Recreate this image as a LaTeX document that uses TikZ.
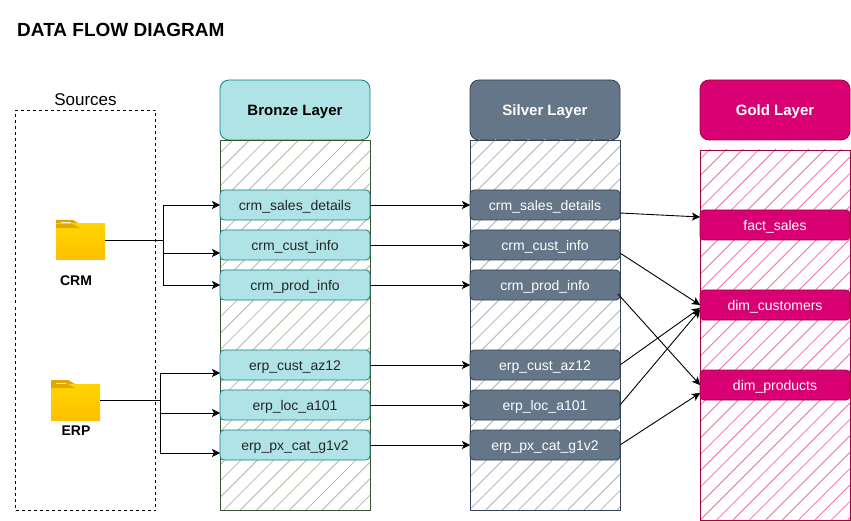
\documentclass[tikz,border=0pt]{standalone}
\usepackage{fontspec}
\setmainfont{Liberation Sans}
\usetikzlibrary{arrows.meta,positioning}
\definecolor{bronzefill}{HTML}{B0E3E6}
\definecolor{bronzeline}{HTML}{0E8088}
\definecolor{bronzepanel}{HTML}{3A5431}
\definecolor{bronzehatch}{HTML}{AEBBA8}
\definecolor{silverfill}{HTML}{647687}
\definecolor{silverline}{HTML}{314354}
\definecolor{silverhatch}{HTML}{A9B4C0}
\definecolor{goldfill}{HTML}{D80073}
\definecolor{goldline}{HTML}{A50040}
\definecolor{goldhatch}{HTML}{EC6DB0}
\definecolor{folderdark}{HTML}{E0A800}
\definecolor{foldertop}{HTML}{FFD500}
\definecolor{folderbottom}{HTML}{FFC000}
\tikzset
{
    header/.style = {rectangle, rounded corners=9pt, outer sep=0pt, inner sep=0pt, line width=0.8pt, minimum width=150pt, minimum height=60pt, text height=11.5pt, text depth=0pt, font=\fontsize{15}{17}\selectfont\bfseries},
    tablerow/.style = {rectangle, rounded corners=4pt, outer sep=0pt, inner sep=0pt, line width=0.8pt, minimum width=150pt, minimum height=30pt, text height=11pt, text depth=0pt, font=\fontsize{14}{16}\selectfont},
    bronzehead/.style = {header, draw=bronzeline, fill=bronzefill, text=black},
    silverhead/.style = {header, draw=silverline, fill=silverfill, text=white},
    goldhead/.style = {header, draw=goldline, fill=goldfill, text=white},
    bronzerow/.style = {tablerow, draw=bronzeline, fill=bronzefill, text=black!85},
    silverrow/.style = {tablerow, draw=silverline, fill=silverfill, text=white},
    goldrow/.style = {tablerow, draw=goldline, fill=goldfill, text=white},
    hatchpanel/.style n args = {3}{rectangle, outer sep=0pt, inner sep=0pt, line width=0.8pt, minimum width=150pt, minimum height=370pt, draw=#1,
        path picture={
            \foreach \d in {#3,...,160}
                \draw[#2, line width=0.8pt] ([xshift=\d pt]path picture bounding box.south west) -- ++(400,-400);
        }},
    foldericon/.style = {rectangle, outer sep=0pt, inner sep=0pt, minimum width=49pt, minimum height=40pt,
        path picture={
            \fill[folderdark] (path picture bounding box.north west) -- ++(17,0) -- ++(8,4.5) -- ++(-25,4) -- cycle;
            \fill[white!85!folderdark] ([shift={(4.5pt,-2.5pt)}]path picture bounding box.north west) rectangle ++(10,2);
            \shade[top color=foldertop, bottom color=folderbottom] ([yshift=-4pt]path picture bounding box.north west) -- ++(49,0) -- (path picture bounding box.south east) -- (path picture bounding box.south west) -- cycle;
            \fill[folderdark] ([yshift=-8pt]path picture bounding box.north west) -- ++(24,0) -- ++(-7,-4) -- ++(-17,0) -- cycle;
        }},
    srclabel/.style = {font=\fontsize{14}{16}\selectfont\bfseries},
    flow/.style = {-{Stealth[length=8pt,width=8pt,inset=2pt]}, line width=0.9pt, black}
}

\begin{document}
\begin{tikzpicture}[x=1pt,y=-1pt]
	\useasboundingbox (0,0) rectangle (851,521);
	\node[anchor=west,font=\fontsize{19}{21}\selectfont\bfseries] (title) at (13.7,30) {DATA FLOW DIAGRAM};

	% sources
	\node[rectangle,draw=black,dashed,line width=0.8pt,outer sep=0pt,minimum width=140pt,minimum height=400pt] (sources) at (85.5,310.5) {};
	\node[above=1pt of sources,font=\fontsize{17}{19}\selectfont] (sourcestitle) {Sources};
	\node[foldericon] (crmfolder) at (80.5,240) {};
	\node[foldericon] (erpfolder) at (75.5,400) {};
	\node[srclabel] (crmlabel) at (76,281) {CRM};
	\node[srclabel] (erplabel) at (76,431) {ERP};

	% layers
	\node[bronzehead] (bronze) at (295,110) {Bronze Layer};
	\node[silverhead,right=100pt of bronze] (silver) {Silver Layer};
	\node[goldhead,right=80pt of silver] (gold) {Gold Layer};
	\node[hatchpanel={bronzepanel}{bronzehatch}{-389.7,-373.3},below=0pt of bronze] (bronzepanel) {};
	\node[hatchpanel={silverline}{silverhatch}{-394.2,-377.8},below=0pt of silver] (silverpanel) {};
	\node[hatchpanel={goldline}{goldhatch}{-393.4,-377},below=10pt of gold] (goldpanel) {};

	% bronze tables
	\node[bronzerow,below=50pt of bronze] (bsales) {crm\_sales\_details};
	\node[bronzerow,below=10pt of bsales] (bcust) {crm\_cust\_info};
	\node[bronzerow,below=10pt of bcust] (bprod) {crm\_prod\_info};
	\node[bronzerow,below=50pt of bprod] (baz) {erp\_cust\_az12};
	\node[bronzerow,below=10pt of baz] (bloc) {erp\_loc\_a101};
	\node[bronzerow,below=10pt of bloc] (bpx) {erp\_px\_cat\_g1v2};

	% silver tables
	\node[silverrow,right=100pt of bsales] (ssales) {crm\_sales\_details};
	\node[silverrow,right=100pt of bcust] (scust) {crm\_cust\_info};
	\node[silverrow,right=100pt of bprod] (sprod) {crm\_prod\_info};
	\node[silverrow,right=100pt of baz] (saz) {erp\_cust\_az12};
	\node[silverrow,right=100pt of bloc] (sloc) {erp\_loc\_a101};
	\node[silverrow,right=100pt of bpx] (spx) {erp\_px\_cat\_g1v2};

	% gold tables
	\node[goldrow,below=70pt of gold] (factsales) {fact\_sales};
	\node[goldrow,below=50pt of factsales] (dimcust) {dim\_customers};
	\node[goldrow,below=50pt of dimcust] (dimprod) {dim\_products};

	% sources to bronze
	\draw[flow] (crmfolder.east) -- ++(58,0) |- (bsales.west);
	\draw[flow] (crmfolder.east) -- ++(58,0) |- ([yshift=-8pt]bcust.west);
	\draw[flow] (crmfolder.east) -- ++(58,0) |- (bprod.west);
	\draw[flow] (erpfolder.east) -- ++(60,0) |- ([yshift=-8pt]baz.west);
	\draw[flow] (erpfolder.east) -- ++(60,0) |- ([yshift=-8pt]bloc.west);
	\draw[flow] (erpfolder.east) -- ++(60,0) |- ([yshift=-8pt]bpx.west);

	% bronze to silver
	\draw[flow] (bsales) -- (ssales);
	\draw[flow] (bcust) -- (scust);
	\draw[flow] (bprod) -- (sprod);
	\draw[flow] (baz) -- (saz);
	\draw[flow] (bloc) -- (sloc);
	\draw[flow] (bpx) -- (spx);

	% silver to gold
	\draw[flow] ([yshift=-8pt]ssales.east) -- ([yshift=8pt]factsales.west);
	\draw[flow] ([yshift=-8pt]scust.east) -- (dimcust.west);
	\draw[flow] ([shift={(-2pt,-9pt)}]sprod.east) -- (dimprod.west);
	\draw[flow] (saz.east) -- ([yshift=-3pt]dimcust.west);
	\draw[flow] (sloc.east) -- ([yshift=-5pt]dimcust.west);
	\draw[flow] (spx.east) -- ([yshift=-8pt]dimprod.west);
\end{tikzpicture}
\end{document}
